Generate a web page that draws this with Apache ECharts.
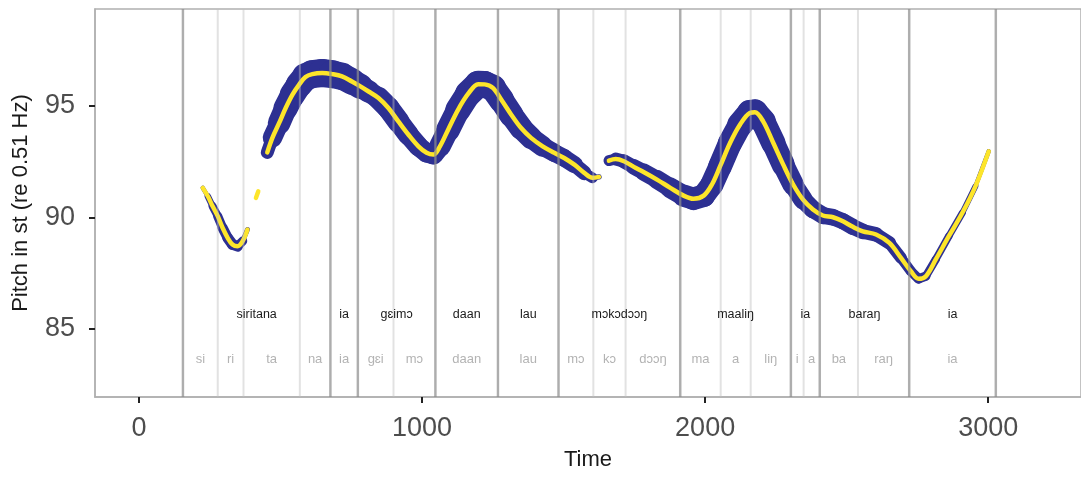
<!DOCTYPE html>
<html><head><meta charset="utf-8">
<script src="https://cdn.jsdelivr.net/npm/echarts@6/dist/echarts.min.js"></script>
<style>html,body{margin:0;padding:0;background:#fff}#c{width:1081px;height:477px}</style>
</head><body><div id="c"></div>
<script>
// Pitch contour (time in ms, pitch in semitones re 0.51 Hz); null separates voiced stretches
const timeMs = [
  225,243,260,278,295,313,330,348,366,383, null,
  413,421, null,
  453,471,495,518,542,565,588,612,647,682,717,752,782,811,846,881,916,952,987,1016,1040,1063,1092,1127,1163,1198,1221,1250,1280,1315,1350,1385,1426,1467,1502,1538,1573,1602,1625, null,
  1660,1684,1713,1748,1784,1830,1877,1924,1959,1995,2024,2053,2088,2123,2158,2176,2205,2241,2276,2311,2346,2381,2416,2452,2487,2522,2557,2604,2651,2692,2727,2754,2780,2815,2861,2909,2955,3002
];
const pitchSt = [
  91.33,90.95,90.50,90.06,89.54,89.09,88.79,88.71,88.94,89.46, null,
  90.88,91.17, null,
  92.92,93.57,94.24,94.91,95.51,95.95,96.30,96.43,96.48,96.43,96.33,96.10,95.88,95.65,95.36,94.91,94.31,93.71,93.19,92.90,92.82,93.19,93.94,94.83,95.55,95.98,95.97,95.81,95.28,94.61,94.01,93.57,93.19,92.90,92.67,92.37,92.00,91.78,91.82, null,
  92.55,92.62,92.52,92.27,92.03,91.70,91.33,90.98,90.84,90.98,91.48,92.30,93.34,94.16,94.69,94.72,94.31,93.34,92.37,91.48,90.80,90.36,90.09,90.01,89.83,89.58,89.38,89.24,88.86,88.19,87.59,87.25,87.37,88.12,89.16,90.21,91.40,92.97
];
// intensity (arbitrary units), drawn as the width of the blue band
const intensity = [
  3,5,7,8,9,10,10,10,7,2, null,
  0,0, null,
  8,16,20,22,23,24,25,26,26,26,25,24,22,19,20,21,20,19,18,18,18,19,21,23,24,25,25,24,23,22,21,20,18,16,17,15,12,8,2, null,
  8,12,12,14,15,17,18,20,21,21,21,22,22,23,24,24,23,22,21,19,17,16,16,15,15,15,14,13,12,10,9,9,8,7,7,6,5,3
];
// Word tier
const words = ['siritana','ia','gɛimɔ','daan','lau','mɔkɔdɔɔŋ','maaliŋ','ia','baraŋ','ia'];
const wordBounds = [155,676,773,1047,1268,1482,1912,2303,2405,2721,3027];
// Syllable tier
const syllables = ['si','ri','ta','na','ia','gɛi','mɔ','daan','lau','mɔ','kɔ','dɔɔŋ','ma','a','liŋ','i','a','ba','raŋ','ia'];
const sylBounds = [155,278,369,568,676,773,899,1047,1268,1482,1605,1719,1912,2055,2161,2303,2348,2405,2540,2721,3027];
// Axis ticks
const xTicks = [0,1000,2000,3000];
const yTicks = [85,90,95];

// ---- styling / layout ----
const BLUE = '#2d3092', YELLOW = '#fde52a';
const BAND_SCALE = 1.08;
const WORD_Y = 85.65, SYL_Y = 83.64;
const FONT = '"Liberation Sans", Arial, Helvetica, sans-serif';

// split into voiced segments
const segments = [];
let cur = [];
for (let i = 0; i < timeMs.length; i++) {
  if (timeMs[i] === null) { if (cur.length) segments.push(cur); cur = []; continue; }
  cur.push([timeMs[i], pitchSt[i], intensity[i]]);
}
if (cur.length) segments.push(cur);

const series = [];
segments.forEach(seg => {
  series.push({
    type: 'custom', z: 2, silent: true, clip: true,
    data: seg,
    encode: {x: 0, y: 1},
    renderItem: (params, api) => {
      const i = params.dataIndex;
      if (i >= seg.length - 1) return;
      const lw = (seg[i][2] + seg[i+1][2]) / 2 * BAND_SCALE;
      if (lw <= 0) return;
      const a = api.coord([seg[i][0], seg[i][1]]);
      const b = api.coord([seg[i+1][0], seg[i+1][1]]);
      return {type: 'line', shape: {x1: a[0], y1: a[1], x2: b[0], y2: b[1]},
        style: {stroke: BLUE, lineWidth: lw, lineCap: 'round', opacity: 1}};
    }
  });
});
segments.forEach(seg => {
  series.push({
    type: 'line', z: 3, silent: true, smooth: 0.35, showSymbol: false, symbol: 'none',
    data: seg.map(p => [p[0], p[1]]),
    lineStyle: {color: YELLOW, width: 4.5, cap: 'round', join: 'round'}
  });
});
function boundarySeries(bounds, color, width, z) {
  return {
    type: 'custom', z: z, silent: true,
    data: bounds.map(b => [b, 90]),
    encode: {x: 0, y: 1},
    renderItem: (params, api) => {
      const p = api.coord([api.value(0), 90]);
      const cs = params.coordSys;
      return {type: 'line', shape: {x1: p[0], y1: cs.y, x2: p[0], y2: cs.y + cs.height},
        style: {stroke: color, lineWidth: width}};
    }
  };
}
series.push(boundarySeries(sylBounds, 'rgba(190,190,190,0.45)', 2, 4));
series.push(boundarySeries(wordBounds, 'rgba(120,120,120,0.5)', 2.5, 5));
function tierLabels(names, bounds, yv, color, size, z) {
  return {
    type: 'custom', z: z, silent: true,
    data: names.map((n, i) => [(bounds[i] + bounds[i+1]) / 2, yv]),
    encode: {x: 0, y: 1},
    renderItem: (params, api) => {
      const p = api.coord([api.value(0), api.value(1)]);
      return {type: 'text', x: p[0], y: p[1],
        style: {text: names[params.dataIndex], fill: color, font: size + 'px ' + FONT,
          align: 'center', verticalAlign: 'middle'}};
    }
  };
}
series.push(tierLabels(words, wordBounds, WORD_Y, '#1a1a1a', 12.5, 6));
series.push(tierLabels(syllables, sylBounds, SYL_Y, '#b3b3b3', 13, 6));

const chart = echarts.init(document.getElementById('c'), null, {renderer: 'canvas'});
chart.setOption({
  animation: false,
  backgroundColor: '#fff',
  grid: {left: 95, right: -5, top: 9, bottom: 80, show: true, borderColor: '#b0b0b0', borderWidth: 1.5, backgroundColor: '#fff'},
  xAxis: {
    type: 'value', min: -155.7, max: 3328,
    name: 'Time', nameLocation: 'middle', nameGap: 52,
    nameTextStyle: {fontSize: 22, color: '#1a1a1a', fontFamily: FONT},
    axisLine: {show: true, onZero: false, lineStyle: {color: '#b0b0b0', width: 1.5}},
    splitLine: {show: false},
    axisTick: {show: true, inside: false, length: 6, customValues: xTicks, lineStyle: {color: '#222', width: 2}},
    axisLabel: {customValues: xTicks, fontSize: 27, color: '#4d4d4d', margin: 18, fontFamily: FONT,
      formatter: v => String(v)}
  },
  yAxis: {
    type: 'value', min: 81.95, max: 99.35,
    name: 'Pitch in st (re 0.51 Hz)', nameLocation: 'middle', nameGap: 63,
    nameTextStyle: {fontSize: 22, color: '#1a1a1a', fontFamily: FONT},
    axisLine: {show: true, onZero: false, lineStyle: {color: '#b0b0b0', width: 1.5}},
    splitLine: {show: false},
    axisTick: {show: true, inside: false, length: 6, customValues: yTicks, lineStyle: {color: '#222', width: 2}},
    axisLabel: {customValues: yTicks, fontSize: 27, color: '#4d4d4d', margin: 20, fontFamily: FONT,
      formatter: v => String(v)}
  },
  series: series
});
</script></body></html>
